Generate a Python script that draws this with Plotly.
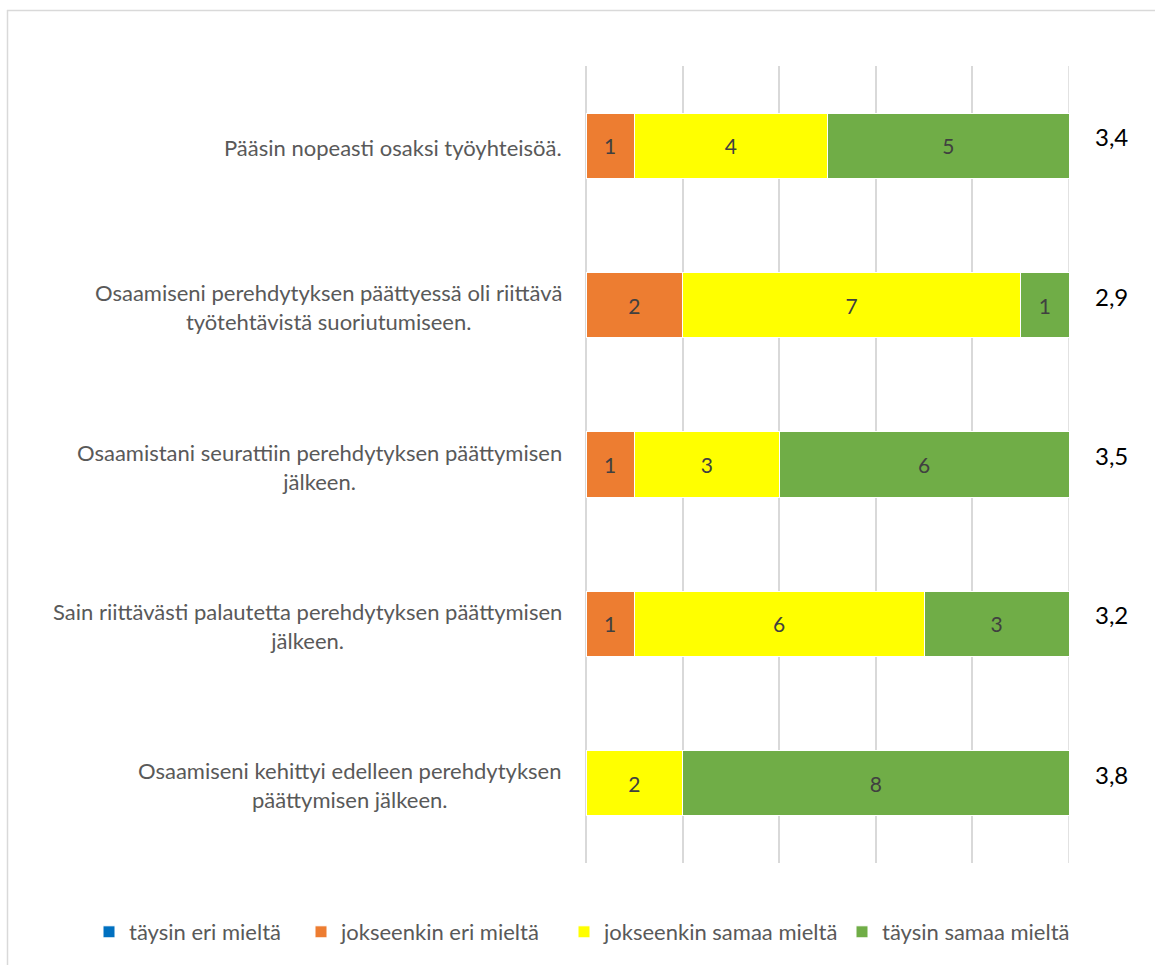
import plotly.graph_objects as go

categories = [
    "Pääsin nopeasti osaksi työyhteisöä.",
    "Osaamiseni perehdytyksen päättyessä oli riittävä<br>työtehtävistä suoriutumiseen.",
    "Osaamistani seurattiin perehdytyksen päättymisen<br>jälkeen.",
    "Sain riittävästi palautetta perehdytyksen päättymisen<br>jälkeen.",
    "Osaamiseni kehittyi edelleen perehdytyksen<br>päättymisen jälkeen.",
]
series_names = ["täysin eri mieltä", "jokseenkin eri mieltä", "jokseenkin samaa mieltä", "täysin samaa mieltä"]
taysin_eri = [0, 0, 0, 0, 0]
jokseenkin_eri = [1, 2, 1, 1, 0]
jokseenkin_samaa = [4, 7, 3, 6, 2]
taysin_samaa = [5, 1, 6, 3, 8]
averages = ["3,4", "2,9", "3,5", "3,2", "3,8"]
x_max = 10
colors = ["#0070C0", "#ED7D31", "#FFFF00", "#70AD47"]
legend_px = [89, 301, 564, 842]  # legend entry left edges (pixels)

FONT = "Lato"
W, H = 1155, 965
L, R, T, B = 586, 86, 66, 102
pw, ph = W - L - R, H - T - B
def px(xp): return (xp - L) / pw
def py(yp): return (H - B - yp) / ph

fig = go.Figure()
legend_layouts = {}
for i, (name, vals, col) in enumerate(zip(series_names, [taysin_eri, jokseenkin_eri, jokseenkin_samaa, taysin_samaa], colors)):
    lg = "legend" if i == 0 else f"legend{i + 1}"
    fig.add_trace(go.Bar(
        y=categories, x=vals, name=name, orientation="h",
        marker=dict(color=col, line=dict(color="white", width=1)),
        text=[str(v) if v else "" for v in vals],
        textposition="inside", insidetextanchor="middle",
        textfont=dict(family=FONT, size=21, color="#404040"),
        constraintext="none", legend=lg,
    ))
    legend_layouts[lg] = dict(orientation="h", xref="paper", yref="paper", x=px(legend_px[i]), xanchor="left",
                              y=py(932), yanchor="middle", font=dict(family=FONT, size=22, color="#595959"),
                              itemclick=False, bgcolor="rgba(0,0,0,0)")

# category labels (centered multi-line)
for c in categories:
    fig.add_annotation(x=0, xref="paper", y=c, yref="y", text=c, showarrow=False,
                       xanchor="right", yanchor="middle", align="center", xshift=-22, yshift=-2,
                       font=dict(family=FONT, size=22, color="#595959"))
# averages
for c, a in zip(categories, averages):
    fig.add_annotation(x=px(1111), xref="paper", y=c, yref="y", text=a,
                       showarrow=False, xanchor="center", yanchor="middle", yshift=9,
                       font=dict(family=FONT, size=24, color="#000000"))

# grid line at the axis end (plotly clips grid lines at the plot edge)
fig.add_shape(type="line", xref="x", yref="paper", x0=x_max, x1=x_max, y0=0, y1=1, layer="below",
              line=dict(color="#d9d9d9", width=1.5))
# chart frame (top and left edges)
fig.add_shape(type="line", xref="paper", yref="paper", x0=px(7), x1=px(W + 5), y0=py(10.5), y1=py(10.5),
              line=dict(color="#d9d9d9", width=1.5))
fig.add_shape(type="line", xref="paper", yref="paper", x0=px(7.5), x1=px(7.5), y0=py(10), y1=py(H + 5),
              line=dict(color="#d9d9d9", width=1.5))

fig.update_layout(
    width=W, height=H, barmode="stack", bargap=0.59,
    margin=dict(l=L, r=R, t=T, b=B, autoexpand=False),
    paper_bgcolor="white", plot_bgcolor="white",
    font=dict(family=FONT, size=22, color="#595959"),
    xaxis=dict(range=[0, x_max], dtick=2, showticklabels=False, showgrid=True,
               gridcolor="#d9d9d9", gridwidth=1.5, zeroline=True, zerolinecolor="#d9d9d9",
               zerolinewidth=1.5, showline=False),
    yaxis=dict(showticklabels=False, autorange="reversed", showgrid=False, showline=False),
    showlegend=True,
    **legend_layouts,
)
fig.write_html("out.html")
